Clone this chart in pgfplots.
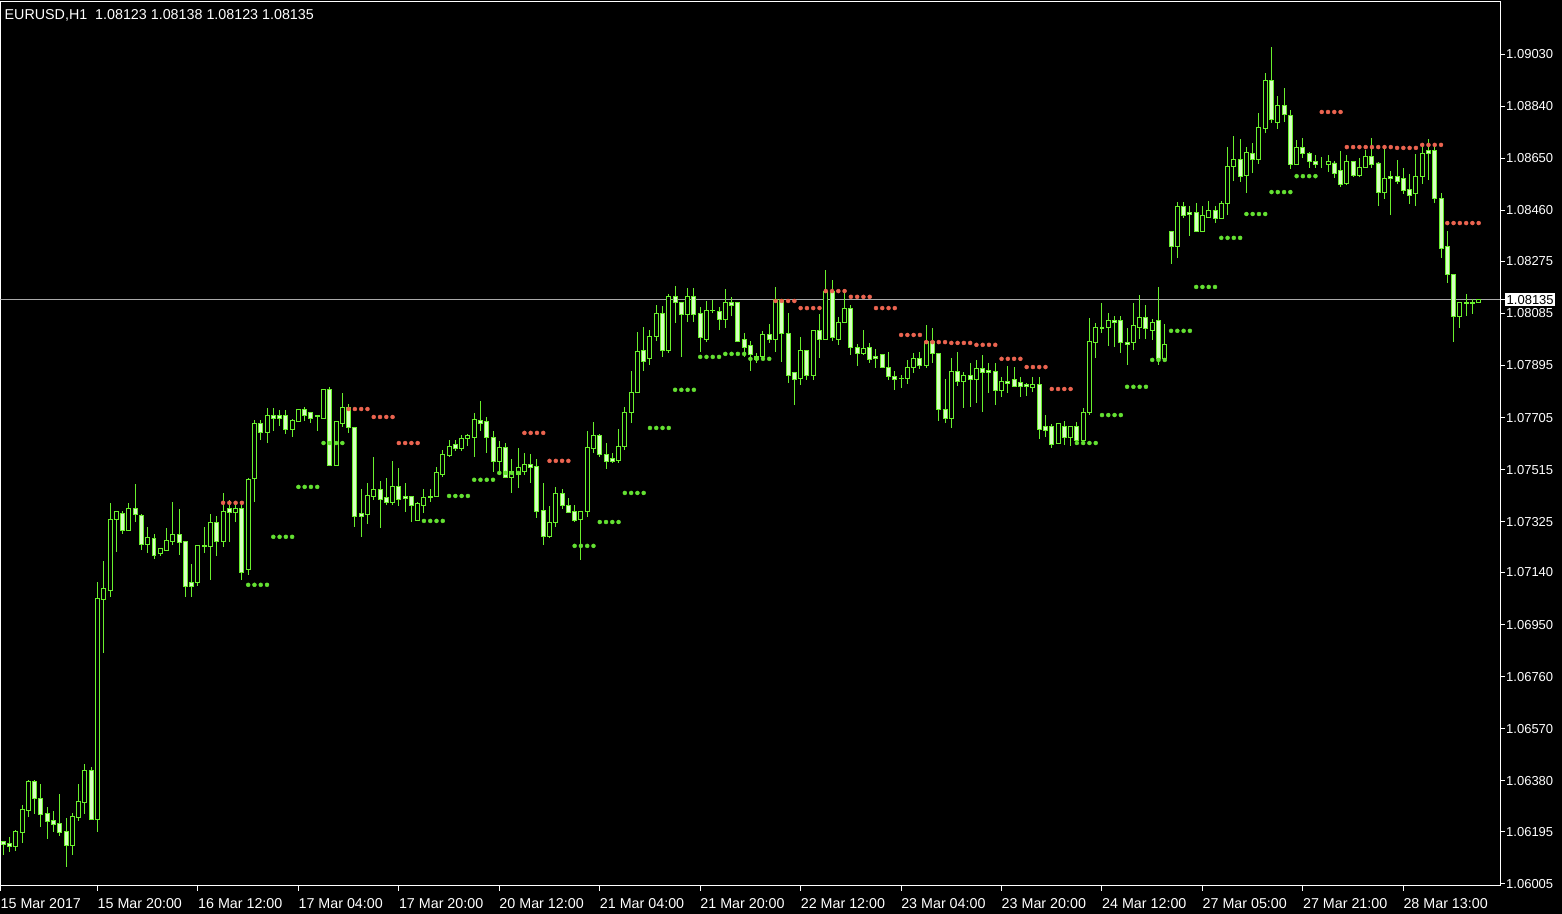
\documentclass[border=0pt]{standalone}
\usepackage{fontspec}
\setmainfont{Liberation Sans}
\usepackage{pgfplots}
\pgfplotsset{compat=1.18}
\usepackage{pgfplotstable}
\definecolor{candle}{RGB}{105,240,45}
\definecolor{bearfill}{RGB}{215,255,195}
\definecolor{reddot}{RGB}{235,100,80}
\definecolor{greendot}{RGB}{100,225,50}
\definecolor{pricegray}{RGB}{170,170,170}

\pgfplotstableread{
i o h l c
0 1.06158 1.06162 1.06111 1.06147
1 1.06151 1.06177 1.06122 1.06140
2 1.06140 1.06202 1.06125 1.06195
3 1.06191 1.06293 1.06155 1.06275
4 1.06271 1.06384 1.06249 1.06377
5 1.06377 1.06384 1.06260 1.06315
6 1.06315 1.06370 1.06213 1.06257
7 1.06260 1.06286 1.06169 1.06231
8 1.06235 1.06271 1.06195 1.06220
9 1.06224 1.06333 1.06180 1.06191
10 1.06195 1.06246 1.06067 1.06144
11 1.06144 1.06264 1.06111 1.06249
12 1.06246 1.06370 1.06235 1.06304
13 1.06300 1.06442 1.06260 1.06417
14 1.06417 1.06432 1.06238 1.06238
15 1.06238 1.07106 1.06195 1.07044
16 1.07040 1.07182 1.06847 1.07080
17 1.07073 1.07394 1.07051 1.07335
18 1.07335 1.07365 1.07215 1.07361
19 1.07354 1.07365 1.07281 1.07292
20 1.07292 1.07394 1.07292 1.07372
21 1.07372 1.07463 1.07324 1.07350
22 1.07346 1.07354 1.07222 1.07241
23 1.07241 1.07306 1.07212 1.07266
24 1.07263 1.07281 1.07190 1.07201
25 1.07208 1.07226 1.07201 1.07226
26 1.07222 1.07303 1.07222 1.07255
27 1.07252 1.07397 1.07241 1.07277
28 1.07277 1.07372 1.07204 1.07248
29 1.07252 1.07255 1.07051 1.07088
30 1.07102 1.07171 1.07051 1.07088
31 1.07102 1.07237 1.07091 1.07237
32 1.07233 1.07306 1.07212 1.07237
33 1.07233 1.07354 1.07113 1.07321
34 1.07321 1.07346 1.07201 1.07252
35 1.07252 1.07430 1.07233 1.07361
36 1.07372 1.07405 1.07252 1.07357
37 1.07357 1.07397 1.07324 1.07372
38 1.07372 1.07397 1.07113 1.07139
39 1.07150 1.07485 1.07131 1.07478
40 1.07481 1.07696 1.07397 1.07685
41 1.07685 1.07696 1.07623 1.07649
42 1.07649 1.07740 1.07612 1.07714
43 1.07714 1.07740 1.07656 1.07703
44 1.07714 1.07733 1.07674 1.07703
45 1.07714 1.07733 1.07645 1.07660
46 1.07660 1.07700 1.07634 1.07693
47 1.07689 1.07736 1.07689 1.07736
48 1.07736 1.07744 1.07693 1.07714
49 1.07722 1.07725 1.07685 1.07703
50 1.07711 1.07714 1.07656 1.07707
51 1.07703 1.07809 1.07700 1.07806
52 1.07806 1.07817 1.07529 1.07529
53 1.07529 1.07689 1.07529 1.07689
54 1.07685 1.07795 1.07671 1.07740
55 1.07740 1.07755 1.07649 1.07667
56 1.07667 1.07667 1.07306 1.07343
57 1.07354 1.07445 1.07270 1.07343
58 1.07350 1.07467 1.07317 1.07419
59 1.07416 1.07561 1.07405 1.07441
60 1.07441 1.07474 1.07303 1.07405
61 1.07412 1.07485 1.07386 1.07394
62 1.07394 1.07547 1.07386 1.07452
63 1.07452 1.07521 1.07383 1.07405
64 1.07416 1.07467 1.07361 1.07408
65 1.07416 1.07416 1.07324 1.07383
66 1.07328 1.07397 1.07328 1.07390
67 1.07386 1.07445 1.07357 1.07412
68 1.07416 1.07445 1.07397 1.07412
69 1.07416 1.07525 1.07416 1.07503
70 1.07499 1.07587 1.07488 1.07569
71 1.07565 1.07623 1.07561 1.07598
72 1.07605 1.07623 1.07583 1.07591
73 1.07591 1.07642 1.07583 1.07627
74 1.07627 1.07645 1.07602 1.07638
75 1.07634 1.07722 1.07561 1.07696
76 1.07696 1.07766 1.07656 1.07685
77 1.07689 1.07707 1.07576 1.07631
78 1.07634 1.07656 1.07507 1.07543
79 1.07543 1.07620 1.07496 1.07594
80 1.07594 1.07612 1.07488 1.07488
81 1.07488 1.07554 1.07430 1.07507
82 1.07499 1.07594 1.07448 1.07521
83 1.07507 1.07576 1.07496 1.07532
84 1.07532 1.07572 1.07467 1.07521
85 1.07525 1.07554 1.07339 1.07361
86 1.07365 1.07467 1.07241 1.07270
87 1.07273 1.07383 1.07266 1.07321
88 1.07321 1.07452 1.07306 1.07427
89 1.07427 1.07445 1.07372 1.07383
90 1.07386 1.07412 1.07357 1.07357
91 1.07361 1.07386 1.07324 1.07328
92 1.07335 1.07361 1.07186 1.07361
93 1.07361 1.07656 1.07343 1.07594
94 1.07591 1.07689 1.07576 1.07638
95 1.07638 1.07645 1.07561 1.07572
96 1.07572 1.07612 1.07518 1.07543
97 1.07554 1.07576 1.07540 1.07543
98 1.07550 1.07663 1.07540 1.07598
99 1.07598 1.07744 1.07587 1.07725
100 1.07722 1.07875 1.07685 1.07798
101 1.07798 1.08017 1.07798 1.07944
102 1.07948 1.08035 1.07875 1.07911
103 1.07919 1.08024 1.07897 1.07999
104 1.07999 1.08115 1.07984 1.08083
105 1.08086 1.08112 1.07926 1.07951
106 1.07951 1.08155 1.07940 1.08148
107 1.08148 1.08185 1.08050 1.08123
108 1.08126 1.08126 1.07926 1.08079
109 1.08079 1.08177 1.08053 1.08148
110 1.08148 1.08177 1.08053 1.08079
111 1.08083 1.08108 1.07944 1.07995
112 1.07991 1.08130 1.07980 1.08097
113 1.08097 1.08134 1.08086 1.08094
114 1.08090 1.08108 1.08024 1.08061
115 1.08061 1.08174 1.08031 1.08123
116 1.08123 1.08145 1.08075 1.08112
117 1.08123 1.08123 1.07984 1.07984
118 1.07988 1.08013 1.07926 1.07962
119 1.07966 1.07984 1.07875 1.07933
120 1.07926 1.07940 1.07904 1.07915
121 1.07926 1.08021 1.07922 1.08006
122 1.08006 1.08046 1.07977 1.07991
123 1.07991 1.08181 1.07944 1.08134
124 1.08134 1.08137 1.07908 1.08013
125 1.08013 1.08086 1.07831 1.07857
126 1.07868 1.07868 1.07751 1.07842
127 1.07846 1.07999 1.07824 1.07948
128 1.07951 1.07951 1.07842 1.07857
129 1.07857 1.08024 1.07842 1.08024
130 1.08024 1.08083 1.07922 1.07991
131 1.07991 1.08243 1.07991 1.08163
132 1.08163 1.08206 1.07984 1.07995
133 1.07991 1.08072 1.07970 1.08050
134 1.08050 1.08163 1.08050 1.08104
135 1.08104 1.08115 1.07933 1.07959
136 1.07962 1.07973 1.07893 1.07940
137 1.07940 1.08024 1.07933 1.07955
138 1.07962 1.07977 1.07904 1.07915
139 1.07929 1.07955 1.07886 1.07919
140 1.07933 1.07933 1.07886 1.07886
141 1.07886 1.07944 1.07842 1.07853
142 1.07853 1.07875 1.07806 1.07842
143 1.07849 1.07860 1.07813 1.07846
144 1.07846 1.07915 1.07827 1.07889
145 1.07886 1.07940 1.07868 1.07922
146 1.07922 1.07944 1.07882 1.07893
147 1.07893 1.08042 1.07886 1.07984
148 1.07984 1.08031 1.07904 1.07937
149 1.07940 1.07940 1.07693 1.07733
150 1.07736 1.07846 1.07685 1.07703
151 1.07703 1.07922 1.07667 1.07871
152 1.07871 1.07944 1.07820 1.07835
153 1.07835 1.07871 1.07740 1.07857
154 1.07857 1.07904 1.07744 1.07842
155 1.07842 1.07915 1.07758 1.07882
156 1.07882 1.07933 1.07725 1.07868
157 1.07875 1.07904 1.07795 1.07868
158 1.07871 1.07904 1.07751 1.07802
159 1.07802 1.07853 1.07780 1.07835
160 1.07835 1.07893 1.07795 1.07828
161 1.07842 1.07889 1.07817 1.07817
162 1.07831 1.07853 1.07780 1.07817
163 1.07824 1.07831 1.07784 1.07817
164 1.07813 1.07853 1.07798 1.07827
165 1.07827 1.07853 1.07627 1.07660
166 1.07671 1.07714 1.07634 1.07656
167 1.07674 1.07682 1.07594 1.07605
168 1.07609 1.07682 1.07609 1.07682
169 1.07674 1.07693 1.07605 1.07631
170 1.07631 1.07674 1.07602 1.07674
171 1.07674 1.07689 1.07612 1.07623
172 1.07623 1.07740 1.07623 1.07725
173 1.07722 1.08068 1.07714 1.07984
174 1.07980 1.08050 1.07922 1.08035
175 1.08035 1.08123 1.08013 1.08031
176 1.08035 1.08086 1.07966 1.08057
177 1.08057 1.08075 1.07962 1.08053
178 1.08057 1.08075 1.07940 1.07977
179 1.07977 1.08031 1.07897 1.07973
180 1.07977 1.08123 1.07951 1.08039
181 1.08035 1.08152 1.07991 1.08068
182 1.08068 1.08115 1.07991 1.08031
183 1.08024 1.08064 1.07988 1.08053
184 1.08057 1.08181 1.07897 1.07922
185 1.07922 1.08046 1.07922 1.07973
186 1.08385 1.08385 1.08265 1.08327
187 1.08327 1.08491 1.08287 1.08476
188 1.08476 1.08491 1.08432 1.08443
189 1.08451 1.08476 1.08367 1.08447
190 1.08451 1.08487 1.08385 1.08385
191 1.08385 1.08476 1.08385 1.08440
192 1.08436 1.08494 1.08436 1.08458
193 1.08458 1.08476 1.08414 1.08432
194 1.08429 1.08494 1.08429 1.08487
195 1.08487 1.08691 1.08443 1.08622
196 1.08622 1.08731 1.08567 1.08647
197 1.08647 1.08720 1.08564 1.08582
198 1.08589 1.08691 1.08524 1.08673
199 1.08669 1.08706 1.08596 1.08644
200 1.08647 1.08815 1.08629 1.08764
201 1.08760 1.08961 1.08742 1.08932
202 1.08932 1.09056 1.08779 1.08790
203 1.08782 1.08877 1.08757 1.08841
204 1.08841 1.08906 1.08782 1.08808
205 1.08808 1.08826 1.08611 1.08629
206 1.08629 1.08717 1.08626 1.08688
207 1.08688 1.08724 1.08651 1.08666
208 1.08669 1.08673 1.08615 1.08640
209 1.08640 1.08662 1.08615 1.08629
210 1.08629 1.08655 1.08615 1.08629
211 1.08629 1.08662 1.08600 1.08640
212 1.08633 1.08640 1.08578 1.08596
213 1.08607 1.08677 1.08545 1.08553
214 1.08560 1.08662 1.08553 1.08637
215 1.08637 1.08637 1.08582 1.08589
216 1.08589 1.08651 1.08582 1.08618
217 1.08618 1.08680 1.08615 1.08655
218 1.08655 1.08724 1.08615 1.08626
219 1.08633 1.08637 1.08476 1.08527
220 1.08527 1.08688 1.08502 1.08578
221 1.08585 1.08604 1.08443 1.08575
222 1.08585 1.08644 1.08556 1.08567
223 1.08575 1.08615 1.08520 1.08531
224 1.08535 1.08593 1.08483 1.08513
225 1.08520 1.08666 1.08476 1.08585
226 1.08582 1.08695 1.08556 1.08669
227 1.08677 1.08720 1.08571 1.08669
228 1.08677 1.08691 1.08487 1.08502
229 1.08505 1.08524 1.08287 1.08323
230 1.08327 1.08385 1.08196 1.08228
231 1.08228 1.08228 1.07980 1.08072
232 1.08072 1.08126 1.08031 1.08126
233 1.08126 1.08155 1.08075 1.08119
234 1.08126 1.08137 1.08083 1.08119
235 1.08123 1.08138 1.08123 1.08135
}\candles

\pgfplotstableread{
x y
35 1.07394
36 1.07394
37 1.07394
38 1.07394
55 1.07736
56 1.07736
57 1.07736
58 1.07736
59 1.07707
60 1.07707
61 1.07707
62 1.07707
63 1.07612
64 1.07612
65 1.07612
66 1.07612
83 1.07649
84 1.07649
85 1.07649
86 1.07649
87 1.07547
88 1.07547
89 1.07547
90 1.07547
123 1.08130
124 1.08130
125 1.08130
126 1.08130
127 1.08104
128 1.08104
129 1.08104
130 1.08104
131 1.08166
132 1.08166
133 1.08166
134 1.08166
135 1.08145
136 1.08145
137 1.08145
138 1.08145
139 1.08104
140 1.08104
141 1.08104
142 1.08104
143 1.08006
144 1.08006
145 1.08006
146 1.08006
147 1.07980
148 1.07980
149 1.07980
150 1.07980
151 1.07977
152 1.07977
153 1.07977
154 1.07977
155 1.07970
156 1.07970
157 1.07970
158 1.07970
159 1.07919
160 1.07919
161 1.07919
162 1.07919
163 1.07889
164 1.07889
165 1.07889
166 1.07889
167 1.07809
168 1.07809
169 1.07809
170 1.07809
210 1.08819
211 1.08819
212 1.08819
213 1.08819
214 1.08691
215 1.08691
216 1.08691
217 1.08691
218 1.08691
219 1.08691
220 1.08691
221 1.08691
222 1.08688
223 1.08688
224 1.08688
225 1.08688
226 1.08699
227 1.08699
228 1.08699
229 1.08699
230 1.08414
231 1.08414
232 1.08414
233 1.08414
234 1.08414
235 1.08414
}\reddots

\pgfplotstableread{
x y
39 1.07095
40 1.07095
41 1.07095
42 1.07095
43 1.07270
44 1.07270
45 1.07270
46 1.07270
47 1.07452
48 1.07452
49 1.07452
50 1.07452
51 1.07612
52 1.07612
53 1.07612
54 1.07612
67 1.07328
68 1.07328
69 1.07328
70 1.07328
71 1.07419
72 1.07419
73 1.07419
74 1.07419
75 1.07478
76 1.07478
77 1.07478
78 1.07478
79 1.07503
80 1.07503
81 1.07503
82 1.07503
91 1.07237
92 1.07237
93 1.07237
94 1.07237
95 1.07324
96 1.07324
97 1.07324
98 1.07324
99 1.07430
100 1.07430
101 1.07430
102 1.07430
103 1.07667
104 1.07667
105 1.07667
106 1.07667
107 1.07806
108 1.07806
109 1.07806
110 1.07806
111 1.07926
112 1.07926
113 1.07926
114 1.07926
115 1.07937
116 1.07937
117 1.07937
118 1.07937
119 1.07919
120 1.07919
121 1.07919
122 1.07919
171 1.07612
172 1.07612
173 1.07612
174 1.07612
175 1.07714
176 1.07714
177 1.07714
178 1.07714
179 1.07817
180 1.07817
181 1.07817
182 1.07817
183 1.07915
184 1.07915
185 1.07915
186 1.08021
187 1.08021
188 1.08021
189 1.08021
190 1.08181
191 1.08181
192 1.08181
193 1.08181
194 1.08360
195 1.08360
196 1.08360
197 1.08360
198 1.08447
199 1.08447
200 1.08447
201 1.08447
202 1.08527
203 1.08527
204 1.08527
205 1.08527
206 1.08585
207 1.08585
208 1.08585
209 1.08585
}\greendots

\pgfplotsset{chartgeom/.style={
  at={(0pt,28pt)}, anchor=south west, scale only axis,
  width=1500pt, height=884pt,
  xmin=-0.45, xmax=238.4, ymin=1.05998, ymax=1.09220}}
\newcommand{\lblfont}{\fontsize{13}{13}\selectfont}
\newcommand{\datefont}{\fontsize{14.3}{14.3}\selectfont}

\begin{document}
\begin{tikzpicture}
\fill[black] (0,0) rectangle (1562pt,914pt);
\begin{axis}[chartgeom,
  axis line style={white, line width=1pt},
  tick align=outside, major tick length=5pt,
  tick style={white, line width=1pt},
  xtick pos=bottom, ytick pos=right, yticklabel pos=right,
  xtick={-0.45,15,31,47,63,79,95,111,127,143,159,175,191,207,223},
  xticklabels={15 Mar 2017,15 Mar 20:00,16 Mar 12:00,17 Mar 04:00,17 Mar 20:00,20 Mar 12:00,21 Mar 04:00,21 Mar 20:00,22 Mar 12:00,23 Mar 04:00,23 Mar 20:00,24 Mar 12:00,27 Mar 05:00,27 Mar 21:00,28 Mar 13:00},
  xticklabel style={anchor=north west, inner sep=0pt, white, font=\datefont, yshift=-8pt},
  ytick={1.09030,1.08840,1.08650,1.08460,1.08275,1.08085,1.07895,1.07705,1.07515,1.07325,1.07140,1.06950,1.06760,1.06570,1.06380,1.06195,1.06005},
  yticklabels={1.09030,1.08840,1.08650,1.08460,1.08275,1.08085,1.07895,1.07705,1.07515,1.07325,1.07140,1.06950,1.06760,1.06570,1.06380,1.06195,1.06005},
  yticklabel style={anchor=west, inner sep=1pt, white, font=\lblfont},
  extra y ticks={1.08135}, extra y tick labels={1.08135},
  extra y tick style={yticklabel style={fill=white, text=black, inner sep=1.5pt}},
]
\addplot[pricegray, line width=1pt, forget plot] coordinates {(-0.45,1.08135) (238.4,1.08135)};
\addplot[draw=none, mark=none, forget plot,
  error bars/.cd, y dir=plus, y explicit, error mark=none,
  error bar style={candle, line width=1pt}]
  table[x=i, y=l, y error expr=\thisrow{h}-\thisrow{l}] \candles;
\end{axis}
\begin{axis}[chartgeom, hide axis, ybar stacked, bar width=4pt]
\addplot[draw=none, fill=none] table[x=i, y expr={min(\thisrow{o},\thisrow{c})}] \candles;
\addplot[draw=candle, fill=black, line width=1pt] table[x=i, y expr={max(\thisrow{c}-\thisrow{o},0)}] \candles;
\addplot[draw=candle, fill=bearfill, line width=1pt] table[x=i, y expr={max(\thisrow{o}-\thisrow{c},0)}] \candles;
\end{axis}
\begin{axis}[chartgeom, hide axis]
\addplot[only marks, mark=*, mark size=2pt, mark options={draw=reddot, fill=reddot}] table[x=x, y=y] \reddots;
\addplot[only marks, mark=*, mark size=2pt, mark options={draw=greendot, fill=greendot}] table[x=x, y=y] \greendots;
\end{axis}
\node[anchor=north west, inner sep=0pt, white, font=\datefont] at (4pt,905pt) {EURUSD,H1\ \ 1.08123 1.08138 1.08123 1.08135};
\end{tikzpicture}
\end{document}
